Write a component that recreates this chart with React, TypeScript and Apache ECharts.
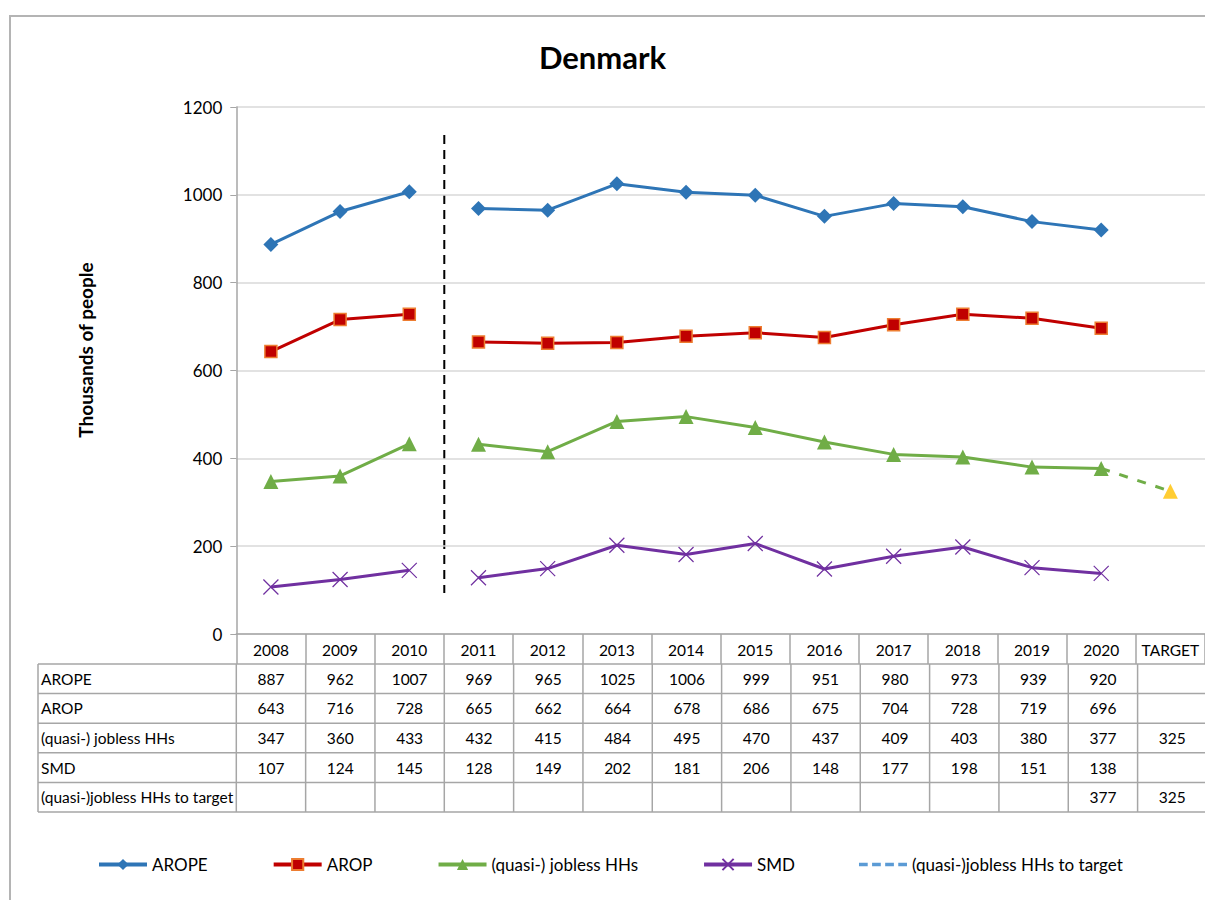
import React, { useEffect, useRef } from "react";
import * as echarts from "echarts";

const categories = ["2008","2009","2010","2011","2012","2013","2014","2015","2016","2017","2018","2019","2020","TARGET"];
const arope = [887, 962, 1007, 969, 965, 1025, 1006, 999, 951, 980, 973, 939, 920, null];
const arop = [643, 716, 728, 665, 662, 664, 678, 686, 675, 704, 728, 719, 696, null];
const jobless = [347, 360, 433, 432, 415, 484, 495, 470, 437, 409, 403, 380, 377, 325];
const smd = [107, 124, 145, 128, 149, 202, 181, 206, 148, 177, 198, 151, 138, null];
const toTarget = [null, null, null, null, null, null, null, null, null, null, null, null, 377, 325];
const yTicks = [0, 200, 400, 600, 800, 1000, 1200];
const rowNames = ["AROPE", "AROP", "(quasi-) jobless HHs", "SMD", "(quasi-)jobless HHs to target"];
const breakIndex = 3; // series break between 2010 and 2011

const FONT = "Lato, 'Liberation Sans', sans-serif";
const GRID_LEFT = 236.3;
const GRID_TOP = 107;
const GRID_BOTTOM_Y = 634;
const CELL_W = 69.33;
const TABLE_LEFT = 38;
const HEADER_H = 30;
const ROW_H = 29.6;
const GRID_LINE = "#A6A6A6";
const TABLE_FS = 15.5;

function seg(arr: (number | null)[], from: number, to: number) {
  return arr.map((v, i) => (i >= from && i < to ? v : null));
}

export default function App() {
  const ref = useRef<HTMLDivElement>(null);
  useEffect(() => {
    if (!ref.current) return;
    const chart = echarts.init(ref.current, null, { renderer: "svg" });

    const nCat = categories.length;
    const gridWidth = CELL_W * nCat;

    const tableRows = [arope, arop, jobless, smd, toTarget];
    const graphics: any[] = [];
    graphics.push({
      type: "rect",
      shape: { x: 10, y: 16, width: 1300, height: 1000 },
      style: { fill: "none", stroke: "#B4B4B4", lineWidth: 2 },
      silent: true,
    });
    graphics.push({
      type: "text",
      x: 85,
      y: 350,
      rotation: Math.PI / 2,
      style: {
        text: "Thousands of people",
        font: `bold 19px ${FONT}`,
        fill: "#000",
        align: "center",
        verticalAlign: "middle",
      },
    });
    graphics.push({
      type: "line",
      shape: { x1: GRID_LEFT + breakIndex * CELL_W, y1: 135, x2: GRID_LEFT + breakIndex * CELL_W, y2: 593 },
      style: { stroke: "#000", lineWidth: 2, lineDash: [9, 6] },
    });
    const tableTop = GRID_BOTTOM_Y + HEADER_H;
    const tableRight = GRID_LEFT + gridWidth;
    const tableBottom = tableTop + ROW_H * rowNames.length;
    for (let r = 0; r <= rowNames.length; r++) {
      const y = tableTop + r * ROW_H;
      graphics.push({
        type: "line",
        shape: { x1: TABLE_LEFT, y1: y, x2: tableRight, y2: y },
        style: { stroke: GRID_LINE, lineWidth: 1.5 },
      });
    }
    graphics.push({
      type: "line",
      shape: { x1: TABLE_LEFT, y1: tableTop, x2: TABLE_LEFT, y2: tableBottom },
      style: { stroke: GRID_LINE, lineWidth: 1.5 },
    });
    for (let c = 0; c <= nCat; c++) {
      const x = GRID_LEFT + c * CELL_W;
      graphics.push({
        type: "line",
        shape: { x1: x, y1: tableTop, x2: x, y2: tableBottom },
        style: { stroke: GRID_LINE, lineWidth: 1.5 },
      });
    }
    rowNames.forEach((name, r) => {
      const cy = tableTop + r * ROW_H + ROW_H / 2;
      graphics.push({
        type: "text",
        x: TABLE_LEFT + 3,
        y: cy,
        style: { text: name, font: `${TABLE_FS}px ${FONT}`, fill: "#000", align: "left", verticalAlign: "middle" },
      });
      tableRows[r].forEach((v, c) => {
        if (v === null || v === undefined) return;
        graphics.push({
          type: "text",
          x: GRID_LEFT + c * CELL_W + CELL_W / 2,
          y: cy,
          style: { text: String(v), font: `${TABLE_FS}px ${FONT}`, fill: "#000", align: "center", verticalAlign: "middle" },
        });
      });
    });

    const crossPath = "path://M0,0L10,10M10,0L0,10";

    const lineSeries = (name: string, data: (number | null)[], color: string, symbol: string, size: number, itemStyle: any) =>
      [[0, breakIndex], [breakIndex, 13]].map(([a, b]) => ({
        name,
        type: "line",
        data: seg(data, a, b),
        symbol,
        symbolSize: size,
        showAllSymbol: true,
        connectNulls: false,
        lineStyle: { color, width: 3 },
        itemStyle,
        z: 3,
      }));

    const option: any = {
      animation: false,
      backgroundColor: "#fff",
      title: {
        text: "Denmark",
        left: "center",
        top: 36,
        textStyle: { fontFamily: FONT, fontWeight: "bold", fontSize: 31, color: "#000" },
      },
      grid: {
        left: GRID_LEFT,
        top: GRID_TOP,
        width: gridWidth,
        height: GRID_BOTTOM_Y - GRID_TOP,
        containLabel: false,
      },
      legend: {
        bottom: 22,
        left: 92,
        itemWidth: 48,
        itemHeight: 14,
        itemGap: 64,
        lineStyle: { width: 4 },
        textStyle: { fontFamily: FONT, fontSize: 17, color: "#000" },
        data: [
          { name: "AROPE" },
          { name: "AROP" },
          { name: "(quasi-) jobless HHs" },
          { name: "SMD" },
          {
            name: "(quasi-)jobless HHs to target",
            icon: "path://M0,0L8,0L8,3L0,3Z M12,0L20,0L20,3L12,3Z M24,0L32,0L32,3L24,3Z M36,0L44,0L44,3L36,3Z",
            itemStyle: { color: "#5B9BD5" },
          },
        ],
      },
      xAxis: {
        type: "category",
        data: categories,
        boundaryGap: true,
        axisLine: { show: true, lineStyle: { color: GRID_LINE, width: 1.5 } },
        axisTick: { show: true, alignWithLabel: false, interval: 0, length: HEADER_H, lineStyle: { color: GRID_LINE, width: 1.5 } },
        axisLabel: { interval: 0, margin: 8, fontFamily: FONT, fontSize: TABLE_FS, color: "#000" },
        splitLine: { show: false },
      },
      yAxis: {
        type: "value",
        min: yTicks[0],
        max: yTicks[yTicks.length - 1],
        interval: 200,
        axisLine: { show: true, lineStyle: { color: GRID_LINE, width: 1.5 } },
        axisTick: { show: true, length: 6, lineStyle: { color: GRID_LINE } },
        axisLabel: { margin: 14, fontFamily: FONT, fontSize: 17, color: "#000", formatter: (v: number) => String(v) },
        splitLine: { show: true, lineStyle: { color: "#D9D9D9", width: 1.5 } },
      },
      series: [
        ...lineSeries("AROPE", arope, "#2E75B6", "diamond", 15, { color: "#2E75B6" }),
        ...lineSeries("AROP", arop, "#C00000", "rect", 12, { color: "#C00000", borderColor: "#ED7D31", borderWidth: 1.5 }),
        ...lineSeries("(quasi-) jobless HHs", jobless, "#70AD47", "triangle", 15, { color: "#70AD47" }),
        ...lineSeries("SMD", smd, "#7030A0", crossPath, 15, { color: "none", borderColor: "#7030A0", borderWidth: 1.2 }),
        {
          name: "(quasi-)jobless HHs to target",
          type: "line",
          data: toTarget,
          symbol: "none",
          lineStyle: { color: "#70AD47", width: 3, type: [9, 10] },
          itemStyle: { color: "#5B9BD5" },
          z: 2,
        },
        {
          name: "Target",
          type: "scatter",
          data: toTarget.map((v, i) => (i === categories.length - 1 ? v : null)),
          symbol: "triangle",
          symbolSize: 15,
          itemStyle: { color: "#FFC000" },
          z: 4,
        },
      ],
      graphic: graphics,
    };
    chart.setOption(option);
    return () => chart.dispose();
  }, []);
  return <div ref={ref} style={{ position: "absolute", left: 0, top: 0, width: 1205, height: 900 }} />;
}
